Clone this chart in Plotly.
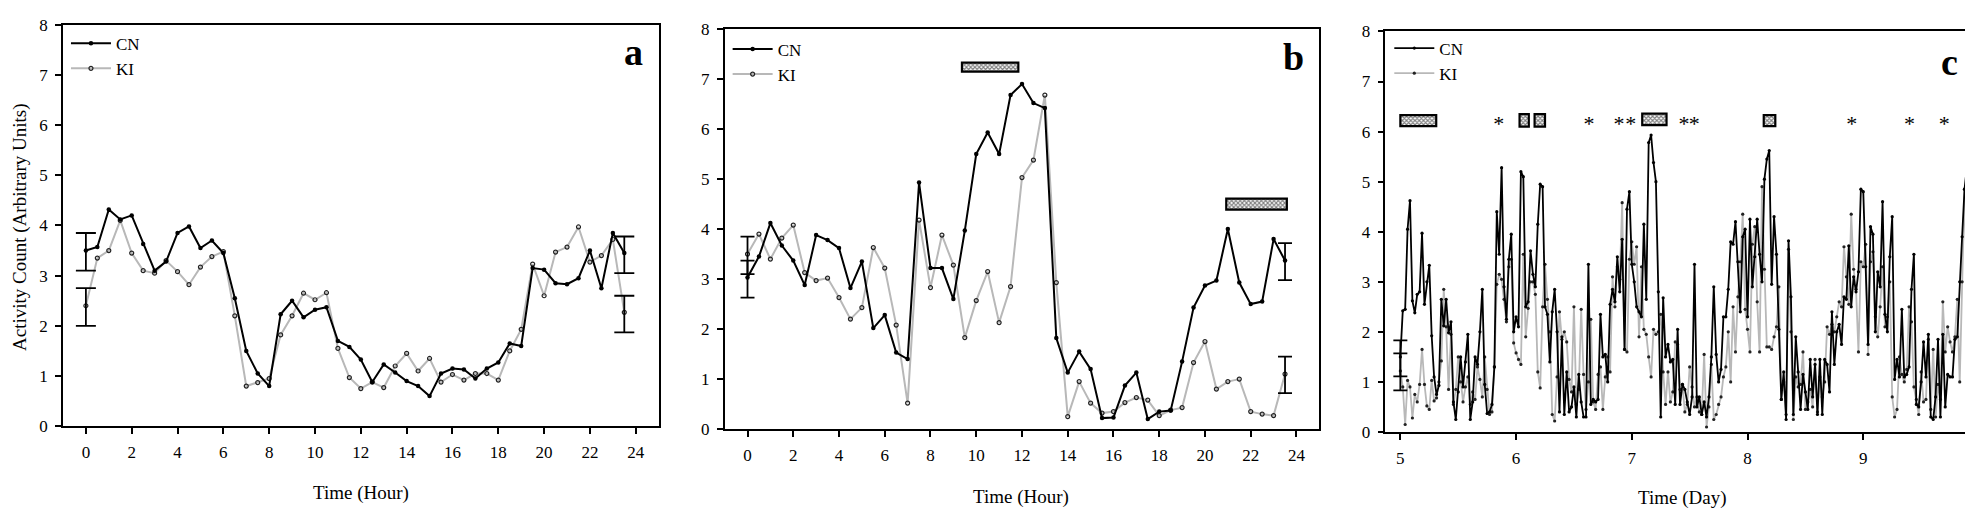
import plotly.graph_objects as go

# ---------------- data ----------------
hours = [i * 0.5 for i in range(48)]

a_cn = [3.5, 3.57, 4.32, 4.12, 4.2, 3.63, 3.1, 3.28, 3.85, 3.98, 3.55, 3.7, 3.45, 2.55, 1.5, 1.05,
        0.8, 2.23, 2.5, 2.17, 2.32, 2.37, 1.7, 1.58, 1.33, 0.88, 1.23, 1.07, 0.9, 0.8, 0.6, 1.05,
        1.15, 1.13, 0.95, 1.15, 1.27, 1.65, 1.6, 3.15, 3.12, 2.85, 2.83, 2.95, 3.5, 2.75, 3.85, 3.45]
a_ki = [2.4, 3.35, 3.5, 4.1, 3.45, 3.1, 3.05, 3.3, 3.08, 2.82, 3.17, 3.38, 3.48, 2.2, 0.8, 0.87,
        0.95, 1.82, 2.2, 2.65, 2.52, 2.66, 1.55, 0.97, 0.75, 0.88, 0.77, 1.2, 1.45, 1.1, 1.35, 0.88,
        1.03, 0.92, 1.05, 1.05, 0.92, 1.5, 1.93, 3.23, 2.6, 3.47, 3.57, 3.97, 3.27, 3.4, 3.72, 2.27]

b_cn = [3.03, 3.45, 4.12, 3.67, 3.37, 2.88, 3.88, 3.78, 3.62, 2.82, 3.35, 2.02, 2.28, 1.53, 1.4, 4.93,
        3.22, 3.22, 2.6, 3.97, 5.5, 5.93, 5.5, 6.68, 6.9, 6.52, 6.42, 1.82, 1.13, 1.55, 1.2, 0.22,
        0.23, 0.87, 1.13, 0.2, 0.35, 0.37, 1.35, 2.43, 2.87, 2.97, 4.0, 2.93, 2.5, 2.55, 3.8, 3.37]
b_ki = [3.5, 3.9, 3.4, 3.82, 4.08, 3.13, 2.97, 3.02, 2.63, 2.2, 2.43, 3.63, 3.22, 2.08, 0.52, 4.18,
        2.83, 3.88, 3.28, 1.83, 2.57, 3.15, 2.13, 2.85, 5.03, 5.38, 6.68, 2.93, 0.25, 0.95, 0.52, 0.32,
        0.35, 0.53, 0.63, 0.58, 0.27, 0.38, 0.43, 1.33, 1.75, 0.8, 0.95, 1.0, 0.35, 0.3, 0.27, 1.1]

# panel c: half-hourly samples from day 5.0
c_cn_d5 = [1.5, 2.42, 2.45, 4.05, 4.62, 2.62, 2.38, 2.75, 2.8, 3.97, 2.55, 3.0, 3.33, 1.92, 1.1, 0.75,
           0.93, 2.65, 2.12, 2.65, 1.98, 2.2, 0.6, 0.25, 0.8, 1.5, 0.9, 1.4, 1.95, 0.25, 0.6, 1.5,
           1.35, 2.0, 2.85, 0.95, 0.37, 0.4, 0.55, 1.3, 4.4, 3.55, 5.28, 2.9, 2.25, 3.45, 3.95, 2.0, 2.3]
c_cn_d6 = [2.1, 5.2, 5.1, 2.5, 2.6, 3.62, 3.15, 2.9, 4.15, 4.95, 4.9, 2.5, 2.35, 1.4, 2.4, 2.85,
           2.0, 0.4, 1.9, 0.35, 1.2, 0.4, 0.5, 0.9, 0.3, 1.15, 0.6, 0.3, 0.3, 3.35, 0.55, 0.65,
           0.6, 0.65, 2.35, 1.5, 1.55, 1.0, 2.55, 2.85, 2.6, 3.5, 2.8, 3.85, 1.65, 4.45, 4.8, 3.35]
c_cn_d7 = [3.0, 2.5, 2.4, 2.3, 4.15, 2.65, 5.78, 5.93, 5.38, 5.0, 2.8, 0.3, 2.68, 1.5, 1.75, 1.4,
           1.45, 0.55, 2.05, 0.55, 0.95, 0.85, 0.6, 0.35, 0.7, 3.35, 0.5, 0.7, 0.35, 0.6, 0.3, 0.7,
           1.5, 2.9, 1.55, 1.0, 1.25, 2.3, 2.3, 2.85, 3.8, 3.75, 4.2, 3.4, 2.4, 3.9, 4.05, 2.3]
c_cn_d8 = [4.25, 2.9, 3.5, 4.25, 3.55, 3.0, 5.05, 5.45, 5.62, 2.95, 4.3, 3.55, 2.05, 0.65, 1.2, 0.25,
           3.82, 2.7, 0.35, 1.9, 1.2, 0.45, 1.15, 0.8, 0.45, 1.45, 0.7, 1.35, 0.35, 1.45, 0.35, 1.45,
           1.35, 0.8, 2.4, 1.35, 2.0, 2.15, 1.75, 2.7, 2.65, 3.72, 2.5, 3.1, 2.8, 3.2, 4.85, 4.8]
c_cn_d9 = [3.3, 1.75, 4.1, 3.95, 2.0, 3.2, 2.9, 4.6, 2.35, 2.0, 3.5, 4.3, 1.05, 1.45, 1.1, 2.45,
           1.1, 1.15, 1.3, 2.85, 3.55, 0.55, 0.5, 1.0, 1.8, 1.1, 1.95, 0.3, 0.25, 0.7, 1.85, 0.3,
           1.95, 0.5, 1.15, 1.1, 1.1, 1.85, 1.9, 3.0, 3.9, 4.85, 5.3, 4.8, 3.5, 4.3, 3.85]

c_ki_d5 = [1.22, 0.9, 0.15, 1.03, 0.9, 0.28, 0.75, 0.6, 0.95, 1.65, 0.95, 0.52, 0.45, 1.03, 0.62, 0.68,
           1.0, 1.42, 2.85, 2.1, 0.85, 1.95, 0.55, 0.85, 1.5, 1.0, 0.6, 0.9, 1.1, 0.55, 0.8, 0.65,
           1.3, 1.05, 0.7, 1.5, 0.85, 0.35, 0.4, 1.3, 2.95, 3.15, 3.05, 2.65, 2.2, 3.3, 3.45, 1.78, 1.58]
c_ki_d6 = [1.45, 1.35, 3.55, 1.9, 2.47, 3.0, 3.0, 2.75, 1.2, 0.88, 2.5, 3.35, 2.65, 2.0, 0.35, 0.22,
           1.1, 2.4, 1.85, 2.0, 1.8, 1.05, 0.8, 2.5, 0.55, 0.85, 2.45, 1.15, 0.45, 1.0, 2.25, 0.6,
           0.45, 1.15, 1.3, 0.45, 1.1, 1.5, 1.2, 3.1, 2.5, 3.3, 3.05, 4.58, 1.65, 1.6, 3.45, 3.8]
c_ki_d7 = [3.35, 3.7, 1.9, 3.3, 2.05, 1.95, 1.5, 1.1, 2.05, 1.95, 2.0, 2.35, 1.2, 0.55, 1.2, 0.6,
           0.8, 1.8, 1.75, 0.85, 0.95, 0.4, 0.55, 1.3, 0.9, 0.5, 0.7, 0.4, 0.35, 1.55, 0.1, 0.5,
           1.35, 0.25, 0.35, 0.55, 0.7, 1.1, 1.3, 2.0, 1.0, 2.5, 1.6, 2.7, 3.4, 4.35, 2.45, 2.05]
c_ki_d8 = [1.6, 3.75, 4.1, 2.6, 1.6, 4.9, 3.25, 1.7, 1.7, 1.65, 1.9, 2.1, 2.9, 0.65, 1.0, 0.35,
           3.65, 2.0, 0.25, 1.1, 0.9, 0.95, 1.6, 0.45, 0.6, 0.85, 0.5, 1.45, 0.4, 1.1, 0.7, 1.0,
           2.1, 1.95, 2.15, 2.0, 2.3, 2.6, 2.5, 3.7, 3.1, 2.55, 4.35, 3.25, 2.85, 1.6, 3.4, 3.3]
c_ki_d9 = [3.75, 1.55, 3.4, 3.6, 2.3, 1.9, 2.5, 3.3, 2.1, 2.3, 3.0, 0.7, 0.3, 0.45, 1.5, 1.15,
           1.0, 1.25, 2.5, 2.2, 0.9, 0.65, 0.35, 1.2, 0.6, 0.65, 1.85, 0.45, 1.65, 0.3, 0.95, 0.65,
           2.6, 1.6, 2.1, 1.8, 1.6, 1.9, 2.65, 1.0, 3.0, 4.85, 3.0, 4.1, 3.6, 4.2, 3.0]

c_cn = c_cn_d5 + c_cn_d6 + c_cn_d7 + c_cn_d8 + c_cn_d9
c_ki = c_ki_d5 + c_ki_d6 + c_ki_d7 + c_ki_d8 + c_ki_d9
days = [5 + i / 48 for i in range(len(c_cn))]

# error bars: x, value, lower, upper
a_err_cn = dict(x=[0, 23.5], y=[3.48, 3.42], lo=[3.1, 3.05], hi=[3.85, 3.78])
a_err_ki = dict(x=[0, 23.5], y=[2.38, 2.23], lo=[2.0, 1.87], hi=[2.75, 2.6])
b_err_cn = dict(x=[0, 23.5], y=[3.0, 3.35], lo=[2.63, 2.98], hi=[3.37, 3.72])
b_err_ki = dict(x=[0, 23.5], y=[3.48, 1.08], lo=[3.1, 0.72], hi=[3.85, 1.45])
c_err_cn = dict(x=[5.0], y=[1.47], lo=[1.11], hi=[1.83])
c_err_ki = dict(x=[5.0], y=[1.2], lo=[0.83], hi=[1.57])

# significance boxes: start, end, bottom, top
b_boxes = [(9.375, 11.84, 7.15, 7.33), (20.93, 23.58, 4.39, 4.61)]
c_boxes = [(5.0, 5.31, 6.11, 6.33), (6.03, 6.11, 6.1, 6.35), (6.16, 6.25, 6.1, 6.35),
           (7.09, 7.30, 6.13, 6.36), (8.14, 8.24, 6.11, 6.33)]
c_stars_x = [5.85, 6.63, 6.89, 6.99, 7.45, 7.54, 8.90, 9.40, 9.70]
c_stars_y = [6.12] * len(c_stars_x)

x_tick_hours = list(range(0, 25, 2))
x_tick_days = [5, 6, 7, 8, 9]
y_ticks = list(range(0, 9))

# ---------------- figure ----------------
W, H = 1973, 512
FONT = "Liberation Serif"
GRAY = "#b8b8b8"

fig = go.Figure()

panels = [
    dict(xa="x", ya="y", lg="legend", xs=hours, cn=a_cn, ki=a_ki, ecn=a_err_cn, eki=a_err_ki,
         cap=10, ki_sym="circle-open", boxes=[], lw=2),
    dict(xa="x2", ya="y2", lg="legend2", xs=hours, cn=b_cn, ki=b_ki, ecn=b_err_cn, eki=b_err_ki,
         cap=7, ki_sym="circle-open", boxes=b_boxes, lw=2),
    dict(xa="x3", ya="y3", lg="legend3", xs=days, cn=c_cn, ki=c_ki, ecn=c_err_cn, eki=c_err_ki,
         cap=7, ki_sym="circle", boxes=c_boxes, lw=1.8),
]

for p in panels:
    ki_marker = dict(symbol=p["ki_sym"], size=4 if p["ki_sym"] == "circle-open" else 3.2,
                     color="#222222", line=dict(width=1.2 if p["ki_sym"] == "circle-open" else 0,
                                                color="#222222"))
    cn_marker = dict(symbol="circle", size=4.5 if p["xa"] != "x3" else 3.2, color="black")
    fig.add_trace(go.Scatter(x=p["xs"], y=p["ki"], mode="lines+markers", name="KI",
                             line=dict(color=GRAY, width=p["lw"]), marker=ki_marker,
                             xaxis=p["xa"], yaxis=p["ya"], legend=p["lg"], legendrank=2))
    fig.add_trace(go.Scatter(x=p["xs"], y=p["cn"], mode="lines+markers", name="CN",
                             line=dict(color="black", width=p["lw"]), marker=cn_marker,
                             xaxis=p["xa"], yaxis=p["ya"], legend=p["lg"], legendrank=1))
    for e in (p["ecn"], p["eki"]):
        fig.add_trace(go.Scatter(
            x=e["x"], y=e["y"], mode="markers", marker=dict(size=0.1, color="rgba(0,0,0,0)"),
            error_y=dict(type="data", symmetric=False,
                         array=[h - v for h, v in zip(e["hi"], e["y"])],
                         arrayminus=[v - l for l, v in zip(e["lo"], e["y"])],
                         color="black", thickness=1.8, width=p["cap"]),
            xaxis=p["xa"], yaxis=p["ya"], showlegend=False, hoverinfo="skip"))
    if p["boxes"]:
        fig.add_trace(go.Bar(
            x=[(s + e) / 2 for s, e, b, t in p["boxes"]],
            y=[t - b for s, e, b, t in p["boxes"]],
            base=[b for s, e, b, t in p["boxes"]],
            width=[e - s for s, e, b, t in p["boxes"]],
            marker=dict(color="white", line=dict(color="black", width=2.2),
                        pattern=dict(shape="x", fgcolor="black", bgcolor="white", size=3, solidity=0.6)),
            xaxis=p["xa"], yaxis=p["ya"], showlegend=False, hoverinfo="skip"))

fig.add_trace(go.Scatter(x=c_stars_x, y=c_stars_y, mode="text", text=["*"] * len(c_stars_x),
                         textfont=dict(family=FONT, size=22, color="black"),
                         xaxis="x3", yaxis="y3", showlegend=False, hoverinfo="skip"))

doms = {
    "a": dict(x=[55 / W, 651 / W], y=[1 - 425 / H, 1 - 8 / H]),
    "b": dict(x=[717 / W, 1312 / W], y=[1 - 428 / H, 1 - 12.5 / H]),
    "c": dict(x=[1378 / W, 1972 / W], y=[1 - 431 / H, 1 - 15 / H]),
}

axis_common = dict(showline=True, linecolor="black", linewidth=1.5, mirror=True, ticks="outside",
                   ticklen=6, tickwidth=1.5, tickcolor="black", showgrid=False, zeroline=False,
                   tickfont=dict(family=FONT, size=17, color="black"), ticklabelstandoff=4)

layout = dict(
    width=W, height=H, margin=dict(l=0, r=0, t=0, b=0), paper_bgcolor="white", plot_bgcolor="white",
    font=dict(family=FONT, color="black"), barmode="overlay",
    xaxis=dict(domain=doms["a"]["x"], anchor="y", range=[-1, 25], tickvals=x_tick_hours, **axis_common),
    yaxis=dict(domain=doms["a"]["y"], anchor="x", range=[0, 8], tickvals=y_ticks, **axis_common),
    xaxis2=dict(domain=doms["b"]["x"], anchor="y2", range=[-1, 25], tickvals=x_tick_hours, **axis_common),
    yaxis2=dict(domain=doms["b"]["y"], anchor="x2", range=[0, 8], tickvals=y_ticks, **axis_common),
    xaxis3=dict(domain=doms["c"]["x"], anchor="y3", range=[4.87, 10.0], tickvals=x_tick_days, **axis_common),
    yaxis3=dict(domain=doms["c"]["y"], anchor="x3", range=[0, 8], tickvals=y_ticks, **axis_common),
)

leg_common = dict(bgcolor="rgba(0,0,0,0)", borderwidth=0, font=dict(family=FONT, size=17, color="black"),
                  xanchor="left", yanchor="top", itemwidth=40, tracegroupgap=0, traceorder="normal")
layout["legend"] = dict(x=58 / W, y=1 - 9 / H, **leg_common)
layout["legend2"] = dict(x=720 / W, y=1 - 15 / H, **leg_common)
layout["legend3"] = dict(x=1382 / W, y=1 - 14 / H, **leg_common)

fig.update_layout(**layout)

ann = []
for txt, xc, yc in [("Time (Hour)", 353, 494), ("Time (Hour)", 1014, 498), ("Time (Day)", 1675, 500)]:
    ann.append(dict(text=txt, x=xc / W, y=1 - yc / H, xref="paper", yref="paper", showarrow=False,
                    xanchor="center", yanchor="middle", font=dict(family=FONT, size=19, color="black")))
ann.append(dict(text="Activity Count (Arbitrary Units)", x=12 / W, y=1 - 218 / H, xref="paper",
                yref="paper", showarrow=False, textangle=-90, xanchor="center", yanchor="middle",
                font=dict(family=FONT, size=19, color="black")))
for txt, xc, yc in [("a", 626, 36), ("b", 1286, 42), ("c", 1942, 47)]:
    ann.append(dict(text="<b>%s</b>" % txt, x=xc / W, y=1 - yc / H, xref="paper", yref="paper",
                    showarrow=False, xanchor="center", yanchor="middle",
                    font=dict(family=FONT, size=38, color="black")))
fig.update_layout(annotations=ann)

fig.write_html("out.html")
